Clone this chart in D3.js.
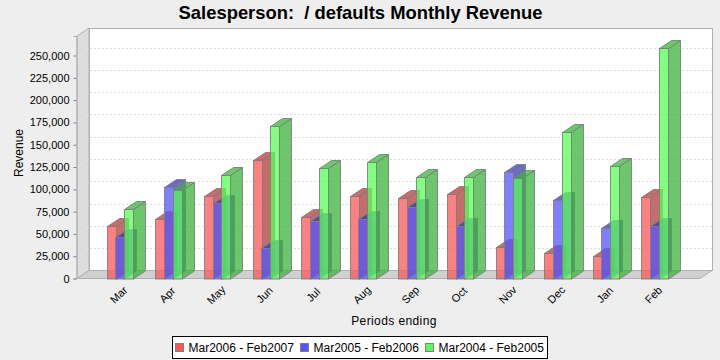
<!DOCTYPE html>
<html>
<head>
<meta charset="utf-8">
<script src="https://d3js.org/d3.v7.min.js"></script>
<style>
html, body { margin: 0; padding: 0; background: #eeeeee; }
svg { display: block; }
text { font-family: "Liberation Sans", sans-serif; fill: #000; }
</style>
</head>
<body>
<div id="chart"></div>
<script>
var months = ["Mar", "Apr", "May", "Jun", "Jul", "Aug", "Sep", "Oct", "Nov", "Dec", "Jan", "Feb"];
var seriesNames = ["Mar2006 - Feb2007", "Mar2005 - Feb2006", "Mar2004 - Feb2005"];
var period2006 = [59400, 66400, 92200, 132500, 68400, 92500, 90200, 94200, 35000, 28300, 24900, 91000];
var period2005 = [46200, 102200, 84600, 33900, 64500, 66700, 80200, 58900, 119000, 87700, 56300, 58500];
var period2004 = [77600, 99500, 115700, 171000, 123500, 130600, 113800, 113800, 112300, 164800, 126100, 258000];
var yTicks = [0, 25000, 50000, 75000, 100000, 125000, 150000, 175000, 200000, 225000, 250000];
var seriesValues = [period2006, period2005, period2004];
var seriesColors = ["#ff5555", "#5555ff", "#55ff55"];

var width = 720,
	height = 360,
	left = 77,
	right = 700,
	bottom = 278.5,
	top3d = 36,
	dx = 12,
	dy = 8,
	barWidth = 9;

var svg = d3.select("#chart").append("svg")
	.attr("width", width)
	.attr("height", height)
	.style("background", "#eeeeee");

var xScale = d3.scaleBand()
	.domain(months)
	.range([96.2, 679.4]);

var xInner = d3.scaleBand()
	.domain(d3.range(seriesNames.length))
	.range([11.1, 37.1]);

var yScale = d3.scaleLinear()
	.domain([0, 271900])
	.range([bottom, top3d]);

function poly(points) {
	return "M" + points.map(function(p) { return p.join(","); }).join("L") + "Z";
}

// plot walls
svg.append("rect")
	.attr("x", left + dx + 0.5)
	.attr("y", top3d - dy + 0.5)
	.attr("width", right - left)
	.attr("height", bottom - top3d - 0.5)
	.attr("fill", "#ffffff")
	.attr("stroke", "#b0b0b0");

svg.append("path")
	.attr("d", poly([[left, bottom], [left, top3d], [left + dx, top3d - dy], [left + dx, bottom - dy]]))
	.attr("fill", "#dddddd")
	.attr("stroke", "#b0b0b0");

svg.append("path")
	.attr("d", poly([[left, bottom], [left + dx, bottom - dy], [right + dx, bottom - dy], [right, bottom]]))
	.attr("fill", "#d0d0d0")
	.attr("stroke", "#b0b0b0");

// gridlines
var grid = svg.append("g");
yTicks.slice(1).forEach(function(t) {
	var y = Math.round(yScale(t)) + 0.5;
	grid.append("line")
		.attr("x1", left + dx + 1).attr("x2", right + dx)
		.attr("y1", y - dy).attr("y2", y - dy)
		.attr("stroke", "#dddddd")
		.attr("stroke-dasharray", "2,2");
	grid.append("line")
		.attr("x1", left).attr("x2", left + dx)
		.attr("y1", y).attr("y2", y - dy)
		.attr("stroke", "#e8e8e8")
		.attr("stroke-dasharray", "2,2");
});

// bars, category by category so later series lie over earlier ones
var bars = svg.append("g");
months.forEach(function(m, i) {
	seriesValues.forEach(function(values, s) {
		var x0 = Math.floor(xScale(m) + xInner(s)) + 0.5,
			x1 = x0 + barWidth,
			y0 = Math.round(yScale(values[i])) + 0.5,
			y1 = Math.round(yScale(0)),
			c = d3.color(seriesColors[s]),
			dark = d3.rgb(c.r * 0.7, c.g * 0.7, c.b * 0.7).formatHex();

		var g = bars.append("g").attr("stroke", "#808080").attr("stroke-opacity", 0.9);
		g.append("rect")
			.attr("x", x0).attr("y", y0)
			.attr("width", barWidth).attr("height", y1 - y0)
			.attr("fill", seriesColors[s]).attr("fill-opacity", 0.75);
		g.append("path")
			.attr("d", poly([[x1, y1], [x1, y0], [x1 + dx, y0 - dy], [x1 + dx, y1 - dy]]))
			.attr("fill", dark).attr("fill-opacity", 0.75);
		g.append("path")
			.attr("d", poly([[x0, y0], [x0 + dx, y0 - dy], [x1 + dx, y0 - dy], [x1, y0]]))
			.attr("fill", dark).attr("fill-opacity", 0.75);
	});
});

// axes
var yAxis = d3.axisLeft(yScale)
	.tickValues(yTicks)
	.tickSize(3)
	.tickPadding(4)
	.tickFormat(d3.format(","));

var yG = svg.append("g")
	.attr("transform", "translate(" + (left - 0.5) + ",0)")
	.call(yAxis);
yG.select(".domain").attr("stroke", "#b0b0b0");
yG.selectAll(".tick line").attr("stroke", "#808080");
yG.selectAll("text").style("font-size", "11px").style("font-family", "Liberation Sans");

var xAxis = d3.axisBottom(xScale)
	.tickSize(0)
	.tickPadding(0);

var xG = svg.append("g")
	.attr("transform", "translate(0," + bottom + ")")
	.call(xAxis);
xG.select(".domain").remove();
xG.selectAll("text")
	.style("font-size", "11px")
	.style("font-family", "Liberation Sans")
	.attr("text-anchor", "middle")
	.attr("dy", null)
	.attr("y", null)
	.attr("transform", "translate(-1,17) rotate(-45)")
	.attr("dominant-baseline", "middle");

// titles
svg.append("text")
	.attr("x", 360.5)
	.attr("y", 19)
	.attr("text-anchor", "middle")
	.style("font-size", "18.4px")
	.style("font-weight", "bold")
	.style("white-space", "pre")
	.text("Salesperson:  / defaults Monthly Revenue");

svg.append("text")
	.attr("transform", "translate(23,153) rotate(-90)")
	.attr("text-anchor", "middle")
	.style("font-size", "12px")
	.text("Revenue");

svg.append("text")
	.attr("x", 394)
	.attr("y", 325)
	.attr("text-anchor", "middle")
	.style("font-size", "12px")
	.style("letter-spacing", "0.4px")
	.text("Periods ending");

// legend
var legend = svg.append("g");
legend.append("rect")
	.attr("x", 172.5).attr("y", 336.5)
	.attr("width", 375).attr("height", 22)
	.attr("fill", "#ffffff")
	.attr("stroke", "#000000");

var legendStep = 125;
seriesNames.forEach(function(name, i) {
	var lx = 175.5 + i * legendStep;
	legend.append("rect")
		.attr("x", lx).attr("y", 343.5)
		.attr("width", 8).attr("height", 8)
		.attr("fill", seriesColors[i])
		.attr("stroke", "#808080");
	legend.append("text")
		.attr("x", lx + 13)
		.attr("y", 352)
		.style("font-size", "12px")
		.text(name);
});
</script>
</body>
</html>
